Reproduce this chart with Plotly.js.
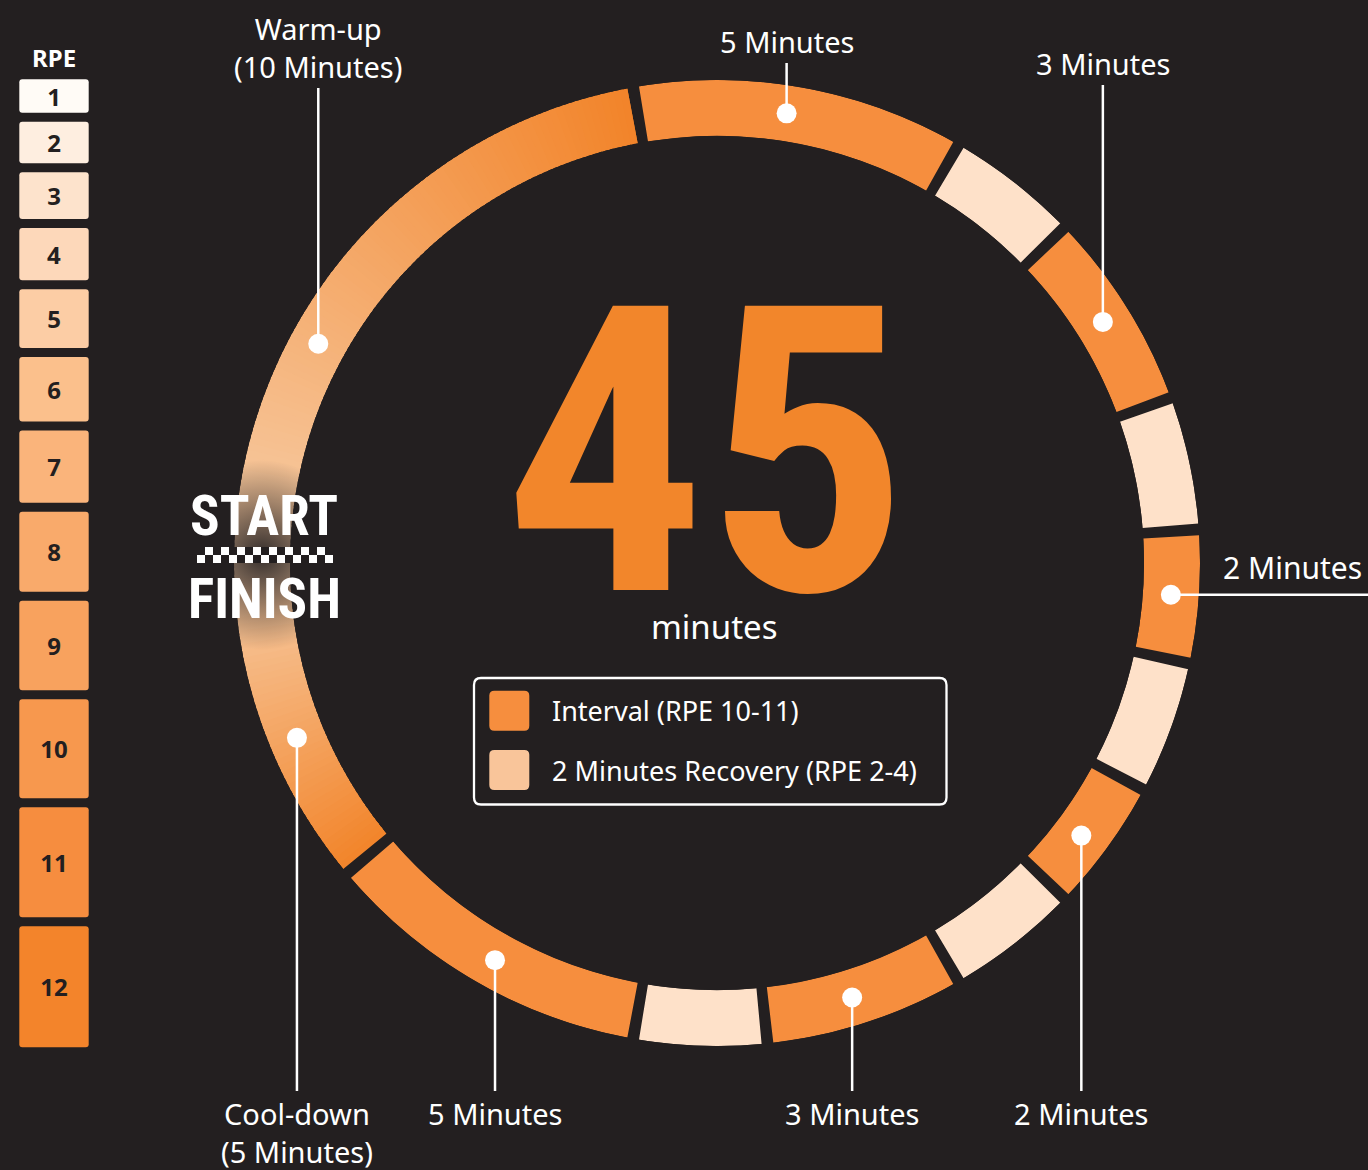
<!DOCTYPE html>
<html>
<head>
<meta charset="utf-8">
<script src="https://cdn.plot.ly/plotly-3.0.1.min.js"></script>
<style>
  html, body { margin: 0; padding: 0; background: #231f20; }
  #chart { width: 1368px; height: 1170px; }
</style>
</head>
<body>
<div id="chart"></div>
<script>
// workout plan in minutes, clockwise from START
var segMinutes = [10, 5, 2, 3, 2, 2, 2, 2, 2, 3, 2, 5, 5];
var segKind = ['warmup', 'interval', 'recovery', 'interval', 'recovery', 'interval', 'recovery',
               'interval', 'recovery', 'interval', 'recovery', 'interval', 'cooldown'];
var segLabel = ['Warm-up<br>(10 Minutes)', '5 Minutes', '', '3 Minutes', '', '2 Minutes', '',
                '2 Minutes', '', '3 Minutes', '', '5 Minutes', 'Cool-down<br>(5 Minutes)'];
var legendNames = ['Interval (RPE 10-11)', '2 Minutes Recovery (RPE 2-4)'];

// RPE scale
var rpeLevels = ['1', '2', '3', '4', '5', '6', '7', '8', '9', '10', '11', '12'];
var rpeColors = ['#FFFBF6', '#FEEEE0', '#FDE3CC', '#FDD8BA', '#FCCDA5', '#FBC08C',
                 '#FAB47B', '#F9AA6B', '#F8A25E', '#F7984E', '#F68D3F', '#F3842B'];

// ---- layout / style ----
var W = 1368, H = 1170;
var BG = '#231F20';
var cx = 717, cy = 563, rOut = 483, rIn = 427, rMid = (rOut + rIn) / 2;
var gapDeg = 1.4;
var colInterval = '#F68E3E', colRecovery = '#FEE1C9';
var colPale = [247, 206, 168], colDeep = [242, 132, 42];
var legendSwatch = ['#F68E3E', '#F9C59A'];
var FONT = 'Noto Sans, Roboto, sans-serif';
var NARROW = 'Roboto Condensed, DejaVu Sans Condensed, sans-serif';

// where each callout dot sits inside its segment, and where its line ends
var calloutPos = [
  {f: 0.36, side: 'top', end: 88},
  {f: 0.47, side: 'top', end: 63},
  null,
  {f: 0.5, side: 'top', end: 85},
  null,
  {f: 0.5, side: 'right', end: W},
  null,
  {f: 0.55, side: 'bottom', end: 1091},
  null,
  {f: 0.53, side: 'bottom', end: 1091},
  null,
  {f: 0.48, side: 'bottom', end: 1091},
  {f: 0.435, side: 'bottom', end: 1091}
];

var rpeBox = {x: 54, w: 69.4, top: 79.3, gap: 9,
              h: [33.4, 41.6, 46.7, 52.3, 58.6, 64.7, 72.2, 80, 89.4, 99, 110, 121]};

function mix(t) {
  var c = colPale.map(function (v, k) { return Math.round(v + (colDeep[k] - v) * t); });
  return 'rgb(' + c.join(',') + ')';
}

function toPx(theta) {
  var a = (theta - 90) * Math.PI / 180;
  return [cx + rMid * Math.sin(a), cy - rMid * Math.cos(a)];
}

function roundRect(x0, y0, x1, y1, r) {
  return 'M' + (x0 + r) + ',' + y0 + ' H' + (x1 - r) + ' Q' + x1 + ',' + y0 + ' ' + x1 + ',' + (y0 + r) +
    ' V' + (y1 - r) + ' Q' + x1 + ',' + y1 + ' ' + (x1 - r) + ',' + y1 +
    ' H' + (x0 + r) + ' Q' + x0 + ',' + y1 + ' ' + x0 + ',' + (y1 - r) +
    ' V' + (y0 + r) + ' Q' + x0 + ',' + y0 + ' ' + (x0 + r) + ',' + y0 + ' Z';
}

// ---- ring ----
var total = segMinutes.reduce(function (a, b) { return a + b; }, 0);
var degPerMin = 360 / total;
var ringTheta = [], ringWidth = [], ringColor = [];
var dotTheta = [], shapes = [], annotations = [];
var last = segMinutes.length - 1;
var start = 0;

segMinutes.forEach(function (m, i) {
  var a0 = start, a1 = start + m * degPerMin;
  start = a1;
  var lo = a0 + (i === 0 ? 0 : gapDeg / 2);
  var hi = a1 - (i === last ? 0 : gapDeg / 2);
  var kind = segKind[i];
  if (kind === 'interval' || kind === 'recovery') {
    ringTheta.push((lo + hi) / 2);
    ringWidth.push(hi - lo);
    ringColor.push(kind === 'interval' ? colInterval : colRecovery);
  } else {
    // gradient: pale at START/FINISH, deep orange away from it
    var step = 0.8;
    for (var t = lo; t < hi; t += step) {
      var t1 = Math.min(t + step * 1.4, hi);
      var mid = (t + t1) / 2;
      var frac = kind === 'warmup' ? (mid - lo) / (hi - lo) : (hi - mid) / (hi - lo);
      ringTheta.push(mid);
      ringWidth.push(t1 - t);
      ringColor.push(mix(frac));
    }
  }

  var cp = calloutPos[i];
  if (cp) {
    var th = a0 + (a1 - a0) * cp.f;
    dotTheta.push(th);
    var p = toPx(th);
    var lineStyle = {color: '#FFFFFF', width: 2.5};
    if (cp.side === 'right') {
      shapes.push({type: 'line', xref: 'x', yref: 'y', x0: p[0], y0: p[1], x1: cp.end, y1: p[1],
                   line: lineStyle, layer: 'above'});
      annotations.push({xref: 'x', yref: 'y', x: cp.end - 4, y: p[1] - 5, xanchor: 'right', yanchor: 'bottom',
                        text: segLabel[i], showarrow: false, font: {family: FONT, size: 30, color: '#FFFFFF'}});
    } else {
      shapes.push({type: 'line', xref: 'x', yref: 'y', x0: p[0], y0: p[1], x1: p[0], y1: cp.end,
                   line: lineStyle, layer: 'above'});
      annotations.push({xref: 'x', yref: 'y', x: p[0], y: cp.side === 'top' ? cp.end : cp.end + 1,
                        xanchor: 'center', yanchor: cp.side === 'top' ? 'bottom' : 'top',
                        text: segLabel[i], showarrow: false,
                        font: {family: FONT, size: 29, color: '#FFFFFF'}});
    }
  }
});

var ring = {
  type: 'barpolar',
  r: ringTheta.map(function () { return 1; }),
  theta: ringTheta,
  width: ringWidth,
  marker: {color: ringColor, line: {width: 0}},
  hoverinfo: 'skip',
  showlegend: false
};

// dark glow behind START / FINISH
var glow = {
  type: 'scatterpolar',
  mode: 'markers',
  r: [0.5], theta: [1],
  marker: {size: 190, color: 'rgba(35,31,32,0)', line: {width: 0},
           gradient: {type: 'radial', color: 'rgba(35,31,32,0.92)'}},
  hoverinfo: 'skip',
  showlegend: false
};

var dots = {
  type: 'scatterpolar',
  mode: 'markers',
  r: dotTheta.map(function () { return 0.5; }),
  theta: dotTheta,
  marker: {size: 20, color: '#FFFFFF', line: {width: 0}},
  hoverinfo: 'skip',
  showlegend: false
};

// ---- RPE column ----
var rpeBase = [], y = rpeBox.top;
rpeBox.h.forEach(function (h) { rpeBase.push(y); y += h + rpeBox.gap; });

var rpe = {
  type: 'bar',
  x: rpeLevels.map(function () { return rpeBox.x; }),
  y: rpeBox.h,
  base: rpeBase,
  width: rpeBox.w,
  text: rpeLevels,
  texttemplate: '%{text}',
  textposition: 'inside',
  insidetextanchor: 'middle',
  constraintext: 'none',
  textangle: 0,
  textfont: {family: FONT, size: 24, color: BG, weight: 700},
  marker: {color: rpeColors, line: {width: 0}, cornerradius: 3},
  xaxis: 'x', yaxis: 'y',
  hoverinfo: 'skip',
  showlegend: false
};

annotations.push({xref: 'x', yref: 'y', x: 54, y: 57, xanchor: 'center', yanchor: 'middle',
                  text: '<b>RPE</b>', showarrow: false, font: {family: FONT, size: 24, color: '#FFFFFF'}});

// ---- centre text ----
annotations.push({xref: 'x', yref: 'y', x: 706, y: 690, xanchor: 'center', yanchor: 'bottom',
                  text: '<b>45</b>', showarrow: false, font: {family: NARROW, size: 400, color: '#F2862B'}});
annotations.push({xref: 'x', yref: 'y', x: 714, y: 651, xanchor: 'center', yanchor: 'bottom',
                  text: 'minutes', showarrow: false, font: {family: FONT, size: 33, color: '#FFFFFF'}});

// ---- legend box ----
shapes.push({type: 'path', xref: 'x', yref: 'y', path: roundRect(474, 678, 946.5, 804.5, 7),
             line: {color: '#FFFFFF', width: 2.3}, fillcolor: 'rgba(0,0,0,0)', layer: 'above'});
[[690.7, 730.7], [750, 790]].forEach(function (yy, k) {
  shapes.push({type: 'path', xref: 'x', yref: 'y', path: roundRect(489.3, yy[0], 529.3, yy[1], 5),
               line: {width: 0}, fillcolor: legendSwatch[k], layer: 'above'});
  annotations.push({xref: 'x', yref: 'y', x: 550, y: (yy[0] + yy[1]) / 2, xanchor: 'left', yanchor: 'middle',
                    text: legendNames[k], showarrow: false, font: {family: FONT, size: 27, color: '#FFFFFF'}});
});

// ---- START / FINISH ----
annotations.push({xref: 'x', yref: 'y', x: 264, y: 550.4, xanchor: 'center', yanchor: 'bottom',
                  text: '<b>START</b>', showarrow: false, font: {family: NARROW, size: 55, color: '#FFFFFF'}});
annotations.push({xref: 'x', yref: 'y', x: 264, y: 632.7, xanchor: 'center', yanchor: 'bottom',
                  text: '<b>FINISH</b>', showarrow: false, font: {family: NARROW, size: 55, color: '#FFFFFF'}});
var chk = {x0: 197, y0: 547, n: 17, s: 8};
shapes.push({type: 'rect', xref: 'x', yref: 'y', x0: chk.x0, x1: chk.x0 + chk.n * chk.s,
             y0: chk.y0, y1: chk.y0 + 2 * chk.s, line: {width: 0}, fillcolor: '#FFFFFF', layer: 'above'});
for (var k = 0; k < chk.n; k++) {
  var row = k % 2;
  shapes.push({type: 'rect', xref: 'x', yref: 'y', x0: chk.x0 + k * chk.s, x1: chk.x0 + (k + 1) * chk.s,
               y0: chk.y0 + row * chk.s, y1: chk.y0 + (row + 1) * chk.s,
               line: {width: 0}, fillcolor: BG, layer: 'above'});
}

var layout = {
  width: W, height: H,
  margin: {l: 0, r: 0, t: 0, b: 0, pad: 0},
  paper_bgcolor: BG,
  plot_bgcolor: 'rgba(0,0,0,0)',
  showlegend: false,
  barmode: 'overlay',
  xaxis: {range: [0, W], visible: false, fixedrange: true, domain: [0, 1]},
  yaxis: {range: [H, 0], visible: false, fixedrange: true, domain: [0, 1]},
  polar: {
    domain: {x: [(cx - rOut) / W, (cx + rOut) / W], y: [1 - (cy + rOut) / H, 1 - (cy - rOut) / H]},
    hole: rIn / rOut,
    bgcolor: 'rgba(0,0,0,0)',
    radialaxis: {visible: false, range: [0, 1]},
    angularaxis: {visible: false, rotation: 180, direction: 'clockwise'}
  },
  shapes: shapes,
  annotations: annotations
};

Plotly.newPlot('chart', [rpe, ring, glow, dots], layout, {staticPlot: true});
</script>
</body>
</html>
